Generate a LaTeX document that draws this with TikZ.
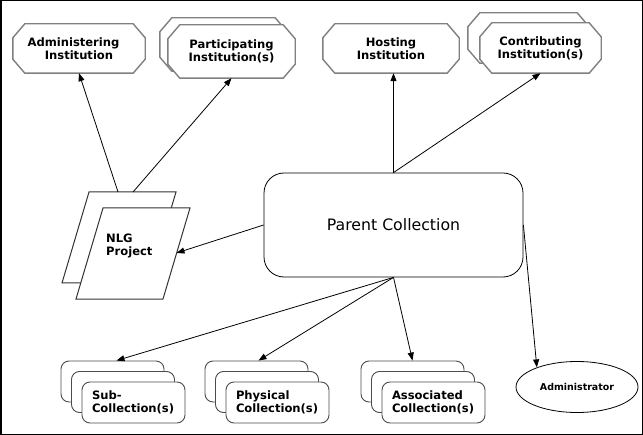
\documentclass[tikz,border=0pt]{standalone}
\usepackage{fontspec}
\setmainfont{DejaVu Sans}
\usetikzlibrary{arrows.meta,shapes.geometric,backgrounds}
\newcommand\octpath[1]{%
  \filldraw[octline] ([xshift=12bp]#1.north west) -- ([xshift=-12bp]#1.north east)
  -- ([yshift=-14bp]#1.north east) -- ([yshift=14bp]#1.south east)
  -- ([xshift=-12bp]#1.south east) -- ([xshift=12bp]#1.south west)
  -- ([yshift=14bp]#1.south west) -- ([yshift=-14bp]#1.north west) -- cycle;}
\begin{document}
\begin{tikzpicture}[x=1bp,y=-1bp,
  lbl/.style={font=\bfseries\fontsize{11.6}{13}\selectfont, align=center},
  octbox/.style={lbl, inner sep=0pt},
  octline/.style={draw=black!50, line width=1.4bp, fill=white},
  para/.style={draw=black!80, line width=1bp, fill=white},
  stk/.style={draw=black!70, line width=0.9bp, fill=white, rounded corners=8bp,
    minimum width=103bp, minimum height=41bp, inner sep=0pt},
  stkf/.style={stk, lbl, align=left, text width=83bp},
  arr/.style={-{Triangle[length=8bp,width=6bp]}, line width=0.8bp}]
\useasboundingbox (0,0) rectangle (643,435);
\draw[line width=1.5bp] (0.75,0.75) rectangle (642.25,434.25);
% octagon institutions
\node[octbox, minimum width=132bp, minimum height=49bp] (adm) at (79,48.5) {Administering\hspace*{11bp}\\Institution};
\node[octbox, minimum width=127bp, minimum height=53bp] (pib) at (223.5,44.5) {};
\node[octbox, minimum width=127bp, minimum height=53bp] (pi) at (231.5,51.5) {Participating\\Institution(s)};
\node[octbox, minimum width=136bp, minimum height=49bp] (hos) at (391,48.5) {Hosting\\Institution};
\node[octbox, minimum width=121bp, minimum height=50bp] (cib) at (528.5,38) {};
\node[octbox, minimum width=121bp, minimum height=50bp] (ci) at (540.5,48) {Contributing\\Institution(s)};
\begin{scope}[on background layer]
  \octpath{adm}\octpath{pib}\octpath{pi}\octpath{hos}\octpath{cib}\octpath{ci}
\end{scope}
% NLG project
\filldraw[para] (89,192) -- (176,192) -- (149,283) -- (62,283) -- cycle;
\filldraw[para] (103,208) -- (190,208) -- (163,299) -- (76,299) -- cycle;
\node[lbl, align=left, anchor=west, inner sep=0pt] (nlg) at (106,246) {NLG\\Project};
\coordinate (nlgR) at (176.5,253);
\coordinate (nlgA) at (118,192);
\coordinate (nlgB) at (133,192);
% parent
\node[draw, line width=0.8bp, rounded corners=20bp, minimum width=259bp, minimum height=104bp,
  font=\fontsize{15.8}{18}\selectfont] (pc) at (393.5,225) {Parent Collection};
% stacks
\node[stk] (sc1) at (112.5,381.5) {};
\node[stk] (sc2) at (123,392) {};
\node[stkf] (sc) at (133.5,402.5) {Sub-\\Collection(s)};
\node[stk] (ph1) at (256.5,381.5) {};
\node[stk] (ph2) at (267,392) {};
\node[stkf] (ph) at (277.5,402.5) {Physical\\Collection(s)};
\node[stk] (as1) at (412.5,381.5) {};
\node[stk] (as2) at (423,392) {};
\node[stkf] (as) at (433.5,402.5) {Associated\\Collection(s)};
% administrator
\node[ellipse, draw, line width=0.8bp, minimum width=122bp, minimum height=51bp, inner sep=0pt,
  font=\bfseries\fontsize{9.5}{11}\selectfont] (admin) at (577,387) {Administrator};
% connectors
\draw[arr] (nlgA) -- (adm.south);
\draw[arr] (nlgB) -- (pi.south);
\draw[arr] (pc.north) -- (pc.north |- hos.south);
\draw[arr] (pc.north) -- (ci.south);
\draw[arr] (pc.west) -- (nlgR);
\draw[arr] (pc.south) -- ([xshift=4bp]sc1.north);
\draw[arr] (pc.south) -- ([xshift=2bp]ph1.north);
\draw[arr] (pc.south) -- (as1.north);
\draw[arr] (pc.east) -- (admin.154);
\end{tikzpicture}
\end{document}
